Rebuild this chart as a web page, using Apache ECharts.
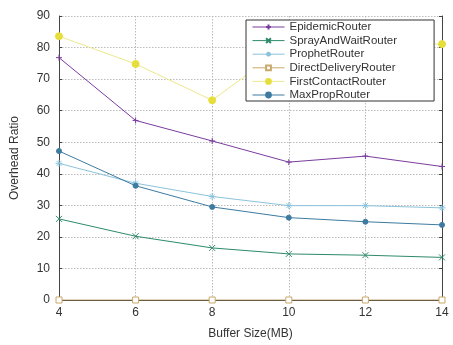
<!DOCTYPE html>
<html>
<head>
<meta charset="utf-8">
<script src="https://cdn.jsdelivr.net/npm/echarts@6/dist/echarts.min.js"></script>
<style>
html, body { margin: 0; padding: 0; background: #fff; }
#main { width: 453px; height: 345px; }
</style>
</head>
<body>
<div id="main"></div>
<script>
// buffer sizes (MB)
var bufferSizes = ['4', '6', '8', '10', '12', '14'];
var epidemic = [76.8, 56.9, 50.4, 43.7, 45.6, 42.3];
var sprayAndWait = [25.7, 20.2, 16.5, 14.6, 14.2, 13.5];
var prophet = [43.3, 37, 32.8, 29.9, 29.9, 29.2];
var directDelivery = [0, 0, 0, 0, 0, 0];
var firstContact = [83.6, 74.8, 63.3, 81.2, 81.2, 81.1];
var maxProp = [47.2, 36.2, 29.5, 26.1, 24.8, 23.8];

var plusPath = 'path://M5,0L5,10M0,5L10,5';
var crossPath = 'path://M0,0L10,10M10,0L0,10';
var starPath = 'path://M5,0L5,10M0,5L10,5M1.5,1.5L8.5,8.5M8.5,1.5L1.5,8.5';

var font = 'Liberation Sans, Arial, sans-serif';

function makeSeries (name, data, color, symbol, size, extra) {
  var s = {
    name: name,
    type: 'line',
    data: data,
    symbol: symbol,
    symbolSize: size,
    lineStyle: { color: color, width: 1 },
    itemStyle: { color: color, borderColor: color, borderWidth: 1 },
    emphasis: { disabled: true },
    animation: false
  };
  if (extra) Object.assign(s.itemStyle, extra);
  return s;
}

var chart = echarts.init(document.getElementById('main'));
var option = {
  backgroundColor: '#fff',
  animation: false,
  grid: { left: 59, right: 11, top: 16, bottom: 42 },
  legend: {
    orient: 'vertical',
    left: 246,
    top: 20,
    padding: [1, 37, 0, 6],
    itemWidth: 32,
    itemHeight: 6,
    itemGap: 1.6,
    backgroundColor: '#fff',
    borderColor: '#333',
    borderWidth: 1,
    borderRadius: 0,
    lineStyle: { width: 1 },
    textStyle: { fontFamily: font, fontSize: 11.5, color: '#333', lineHeight: 12 },
    data: ['EpidemicRouter', 'SprayAndWaitRouter', 'ProphetRouter', 'DirectDeliveryRouter', 'FirstContactRouter', 'MaxPropRouter']
  },
  xAxis: [
    {
      type: 'category',
      data: bufferSizes,
      boundaryGap: false,
      name: 'Buffer Size(MB)',
      nameLocation: 'middle',
      nameGap: 28,
      nameTextStyle: { fontFamily: font, fontSize: 12, color: '#333' },
      axisLine: { lineStyle: { color: '#444' } },
      axisTick: { inside: true, length: 3, lineStyle: { color: '#444' } },
      axisLabel: { fontFamily: font, fontSize: 12, color: '#333', margin: 7 },
      splitLine: { show: true, lineStyle: { color: '#bbb', type: [1.5, 1.5] } }
    },
    {
      type: 'category',
      data: bufferSizes,
      boundaryGap: false,
      position: 'top',
      axisLine: { lineStyle: { color: '#444' } },
      axisTick: { inside: true, length: 3, lineStyle: { color: '#444' } },
      axisLabel: { show: false },
      splitLine: { show: false }
    }
  ],
  yAxis: [
    {
      type: 'value',
      min: 0,
      max: 90,
      interval: 10,
      name: 'Overhead Ratio',
      nameLocation: 'middle',
      nameGap: 38,
      nameTextStyle: { fontFamily: font, fontSize: 12, color: '#333' },
      axisLine: { show: true, lineStyle: { color: '#444' } },
      axisTick: { show: true, inside: true, length: 3, lineStyle: { color: '#444' } },
      axisLabel: { fontFamily: font, fontSize: 12, color: '#333', margin: 9 },
      splitLine: { show: true, lineStyle: { color: '#bbb', type: [1.5, 1.5] } }
    },
    {
      type: 'value',
      min: 0,
      max: 90,
      interval: 10,
      position: 'right',
      axisLine: { show: true, lineStyle: { color: '#444' } },
      axisTick: { show: true, inside: true, length: 3, lineStyle: { color: '#444' } },
      axisLabel: { show: false },
      splitLine: { show: false }
    }
  ],
  series: [
    makeSeries('EpidemicRouter', epidemic, '#7a3d9e', plusPath, 6),
    makeSeries('SprayAndWaitRouter', sprayAndWait, '#2e8a6c', crossPath, 6),
    makeSeries('ProphetRouter', prophet, '#8cc3dc', starPath, 7),
    makeSeries('DirectDeliveryRouter', directDelivery, '#c9a96a', 'rect', 6, { color: '#fff', borderColor: '#c9a96a' }),
    makeSeries('FirstContactRouter', firstContact, '#ece98a', 'circle', 7, { color: '#e6de3a', borderColor: '#e6de3a' }),
    makeSeries('MaxPropRouter', maxProp, '#3d7ba1', 'circle', 5)
  ]
};
chart.setOption(option);
</script>
</body>
</html>
